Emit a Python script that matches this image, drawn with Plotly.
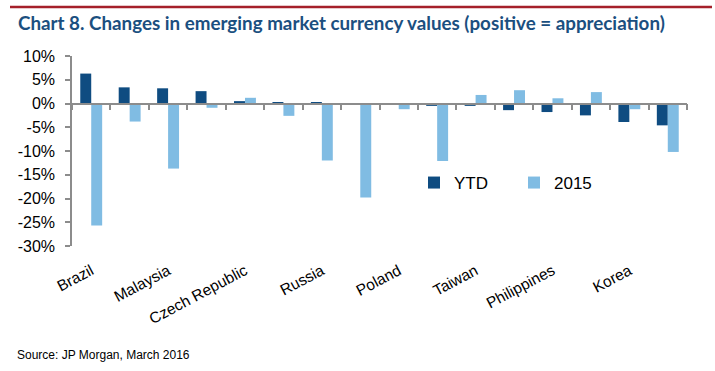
import plotly.graph_objects as go

# Category labels (Excel showed every other label only)
labels = ["Brazil", "", "Malaysia", "", "Czech Republic", "", "Russia", "",
          "Poland", "", "Taiwan", "", "Philippines", "", "Korea", ""]
ytd = [6.3, 3.4, 3.2, 2.6, 0.5, 0.3, 0.2, 0.0,
       0.0, -0.5, -0.5, -1.4, -1.8, -2.5, -3.9, -4.6]
y2015 = [-25.7, -3.8, -13.7, -0.9, 1.2, -2.6, -12.0, -19.8,
         -1.2, -12.1, 1.8, 2.8, 1.1, 2.4, -1.2, -10.2]
y_ticks = [10, 5, 0, -5, -10, -15, -20, -25, -30]

x = list(range(len(labels)))
n = len(labels)

fig = go.Figure()
fig.add_trace(go.Bar(x=x, y=ytd, name="YTD", marker_color="#0F4C81",
                     marker_line_width=0))
fig.add_trace(go.Bar(x=x, y=y2015, name="2015", marker_color="#80BCE3",
                     marker_line_width=0))

W, H = 715, 371
ml, mr, mt, mb = 72, 28, 56, 125
pw = W - ml - mr
ph = H - mt - mb
ymin, ymax = -30, 10
zero_pos = (0 - ymin) / (ymax - ymin)

fig.update_layout(
    width=W, height=H,
    margin=dict(l=ml, r=mr, t=mt, b=mb),
    paper_bgcolor="white", plot_bgcolor="white",
    barmode="group", bargap=0.43, bargroupgap=0,
    font=dict(family="Liberation Sans, Arial, sans-serif", color="black"),
    showlegend=True,
    legend=dict(orientation="h", x=(414 - ml) / pw, y=(mt + ph - 183) / ph,
                xanchor="left", yanchor="middle",
                font=dict(size=17, color="black"),
                entrywidth=55, entrywidthmode="pixels",
                bgcolor="rgba(0,0,0,0)", itemsizing="constant"),
    xaxis=dict(range=[-0.5, n - 0.5], tickmode="array", tickvals=x,
               ticktext=labels, tickangle=-28, showline=False, ticks="",
               showgrid=False, zeroline=False, automargin=False,
               tickfont=dict(size=15.5, color="black"),
               ticklabelstandoff=12),
    xaxis2=dict(range=[-0.5, n - 0.5], overlaying="x", anchor="free",
                position=zero_pos, side="bottom", showline=True,
                linecolor="#8C8C8C", linewidth=1.5,
                tickmode="array", tickvals=[i - 0.5 for i in range(n + 1)],
                ticks="outside", ticklen=6, tickcolor="#8C8C8C", tickwidth=1.5,
                showticklabels=False, showgrid=False, zeroline=False),
    yaxis=dict(range=[ymin, ymax], tickmode="array", tickvals=y_ticks,
               ticktext=[f"{v}%" for v in y_ticks],
               showline=True, linecolor="#8C8C8C", linewidth=1.5,
               ticks="outside", ticklen=5, tickcolor="#8C8C8C", tickwidth=1.5,
               showgrid=False, zeroline=False, automargin=False,
               tickfont=dict(size=16, color="black"),
               ticklabelstandoff=7),
)

# Empty trace on xaxis2 so the overlay axis is rendered
fig.add_trace(go.Scatter(x=[], y=[], xaxis="x2", yaxis="y", showlegend=False,
                         hoverinfo="skip"))

# Red rule across top
fig.add_shape(type="line", xref="paper", yref="paper",
              x0=(10 - ml) / pw, x1=(712 - ml) / pw,
              y0=(H - mb - 7) / ph, y1=(H - mb - 7) / ph,
              line=dict(color="#A5202A", width=2.5))

fig.add_annotation(text="Chart 8. Changes in emerging market currency values (positive = appreciation)",
                   xref="paper", yref="paper",
                   x=(16 - ml) / pw, y=(H - mb - 22) / ph,
                   xanchor="left", yanchor="middle", showarrow=False,
                   font=dict(family="Lato, 'Open Sans', sans-serif", size=18.8,
                             color="#1B4F80", weight="bold"))

fig.add_annotation(text="Source: JP Morgan, March 2016",
                   xref="paper", yref="paper",
                   x=(15 - ml) / pw, y=(H - mb - 355) / ph,
                   xanchor="left", yanchor="middle", showarrow=False,
                   font=dict(family="'Liberation Sans Narrow', 'Arial Narrow', sans-serif",
                             size=12, color="black"))

fig.write_html("out.html", config={"displayModeBar": False})

# Remove the browser's default body margin so the figure sits at (0, 0)
with open("out.html", "r", encoding="utf-8") as f:
    html = f.read()
html = html.replace("<head>", "<head><style>html,body{margin:0;padding:0;}</style>", 1)
with open("out.html", "w", encoding="utf-8") as f:
    f.write(html)
